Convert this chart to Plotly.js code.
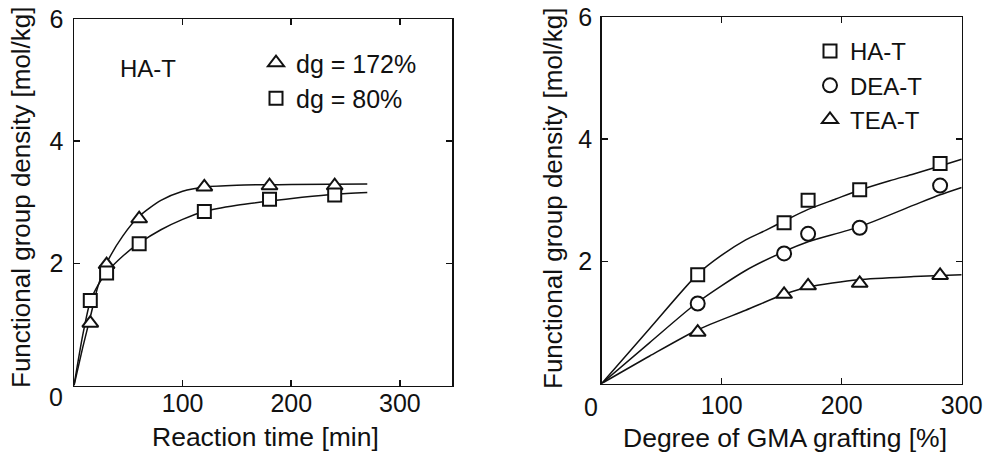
<!DOCTYPE html>
<html>
<head>
<meta charset="utf-8">
<script src="https://cdn.plot.ly/plotly-3.0.1.min.js"></script>
<style>
html, body { margin: 0; padding: 0; background: #fff; }
#chart { width: 987px; height: 454px; }
</style>
</head>
<body>
<div id="chart"></div>
<script>
// ---------- Left panel: HA-T, density vs reaction time ----------
const reactionTime = [15, 30, 60, 120, 180, 240];
const densityDg172 = [1.02, 1.98, 2.73, 3.25, 3.27, 3.27];
const densityDg80  = [1.39, 1.84, 2.32, 2.85, 3.05, 3.12];

// fitted curves
const fitTime172    = [0, 8, 15, 22, 30, 45, 60, 80, 100, 120, 150, 200, 270];
const fitDensity172 = [0, 0.62, 1.12, 1.62, 2.0, 2.45, 2.77, 3.03, 3.18, 3.25, 3.28, 3.29, 3.30];
const fitTime80     = [0, 8, 15, 22, 30, 45, 60, 80, 100, 120, 150, 180, 210, 240, 270];
const fitDensity80  = [0, 0.82, 1.38, 1.64, 1.85, 2.12, 2.33, 2.55, 2.72, 2.85, 2.95, 3.02, 3.08, 3.13, 3.16];

// ---------- Right panel: density vs degree of GMA grafting ----------
const graftingDeg = [80, 152, 172, 215, 282];
const densityHAT  = [1.78, 2.63, 3.00, 3.17, 3.60];
const densityDEAT = [1.31, 2.13, 2.45, 2.55, 3.24];
const densityTEAT = [0.84, 1.46, 1.60, 1.64, 1.77];

const fitGraftHAT  = [0, 40, 80, 100, 120, 137, 152, 172, 195, 214, 240, 260, 282, 300];
const fitDensHAT   = [0, 0.90, 1.79, 2.10, 2.35, 2.51, 2.66, 2.85, 3.02, 3.16, 3.32, 3.43, 3.56, 3.67];
const fitGraftDEAT = [0, 40, 80, 120, 152, 172, 214, 260, 282, 300];
const fitDensDEAT  = [0, 0.67, 1.33, 1.85, 2.16, 2.32, 2.56, 2.92, 3.09, 3.21];
const fitGraftTEAT = [0, 40, 80, 120, 152, 172, 214, 260, 300];
const fitDensTEAT  = [0, 0.45, 0.88, 1.20, 1.46, 1.58, 1.70, 1.75, 1.78];

// ticks / labels
const leftXTicks  = [100, 200, 300];
const rightXTicks = [100, 200, 300];
const yTicks      = [2, 4, 6];

const leftLegendNames  = ['dg = 172%', 'dg = 80%'];
const rightLegendNames = ['HA-T', 'DEA-T', 'TEA-T'];

// ---------- styling ----------
const W = 987, H = 454;
const INK = '#111';
const FONT = 'Liberation Sans, Arial, Helvetica, sans-serif';
const px = v => v / W;
const py = v => 1 - v / H;

function curve(x, y, xa, ya) {
  return { x: x, y: y, xaxis: xa, yaxis: ya, mode: 'lines', type: 'scatter',
           line: { color: INK, width: 1.5, shape: 'spline', smoothing: 0.7 },
           showlegend: false, hoverinfo: 'skip' };
}
function pts(x, y, xa, ya, symbol, size, name, legend) {
  return { x: x, y: y, xaxis: xa, yaxis: ya, mode: 'markers', type: 'scatter',
           name: name, legend: legend,
           marker: { symbol: symbol, size: size, color: '#fff',
                     line: { color: INK, width: 2 } },
           cliponaxis: false };
}

const traces = [
  curve(fitTime172, fitDensity172, 'x', 'y'),
  curve(fitTime80, fitDensity80, 'x', 'y'),
  pts(reactionTime, densityDg172, 'x', 'y', 'triangle-up', 14, leftLegendNames[0], 'legend'),
  pts(reactionTime, densityDg80, 'x', 'y', 'square', 13, leftLegendNames[1], 'legend'),

  curve(fitGraftHAT, fitDensHAT, 'x2', 'y2'),
  curve(fitGraftDEAT, fitDensDEAT, 'x2', 'y2'),
  curve(fitGraftTEAT, fitDensTEAT, 'x2', 'y2'),
  pts(graftingDeg, densityHAT, 'x2', 'y2', 'square', 13, rightLegendNames[0], 'legend2'),
  pts(graftingDeg, densityDEAT, 'x2', 'y2', 'circle', 14, rightLegendNames[1], 'legend2'),
  pts(graftingDeg, densityTEAT, 'x2', 'y2', 'triangle-up', 14, rightLegendNames[2], 'legend2')
];

function axis(extra) {
  return Object.assign({
    showline: true, linecolor: INK, linewidth: 1.5, mirror: 'ticks',
    ticks: 'inside', ticklen: 6, tickwidth: 1.5, tickcolor: INK,
    showgrid: false, zeroline: false, fixedrange: true,
    tickfont: { family: FONT, size: 25, color: INK }
  }, extra);
}

const legendBase = {
  xanchor: 'left', yanchor: 'top', bgcolor: 'rgba(0,0,0,0)', borderwidth: 0,
  tracegroupgap: 0, itemclick: false, itemdoubleclick: false
};

function ann(text, x, y, size, angle) {
  return { text: text, xref: 'paper', yref: 'paper', x: px(x), y: py(y),
           xanchor: 'center', yanchor: 'middle', showarrow: false,
           textangle: angle || 0,
           font: { family: FONT, size: size, color: INK } };
}

const layout = {
  width: W, height: H,
  margin: { l: 0, r: 0, t: 0, b: 0 },
  paper_bgcolor: '#fff', plot_bgcolor: '#fff',
  xaxis:  axis({ domain: [px(74), px(452)], range: [0, 348], anchor: 'y',
                 tickvals: leftXTicks, ticklabelstandoff: -5 }),
  yaxis:  axis({ domain: [py(385.5), py(19)], range: [0, 6], anchor: 'x',
                 tickvals: yTicks, ticklabelstandoff: 4 }),
  xaxis2: axis({ domain: [px(601.7), px(961.7)], range: [0, 300], anchor: 'y2',
                 tickvals: rightXTicks, ticklabelstandoff: -1 }),
  yaxis2: axis({ domain: [py(383.5), py(17)], range: [0, 6], anchor: 'x2',
                 tickvals: yTicks, ticklabelstandoff: 3 }),
  legend:  Object.assign({ x: px(256), y: py(40),
                           font: { family: FONT, size: 25, color: INK } }, legendBase),
  legend2: Object.assign({ x: px(810), y: py(29),
                           font: { family: FONT, size: 24, color: INK } }, legendBase),
  annotations: [
    ann('Functional group density [mol/kg]', 21, 197, 26, -90),
    ann('Functional group density [mol/kg]', 553, 198, 26, -90),
    ann('Reaction time [min]', 265, 437, 26.5),
    ann('Degree of GMA grafting [%]', 785, 438, 26.5),
    ann('0', 56, 397, 25),
    ann('0', 590.7, 406.7, 25),
    ann('HA-T', 148, 68, 24)
  ],
  showlegend: true
};

Plotly.newPlot('chart', traces, layout, { staticPlot: true, displayModeBar: false });
</script>
</body>
</html>
